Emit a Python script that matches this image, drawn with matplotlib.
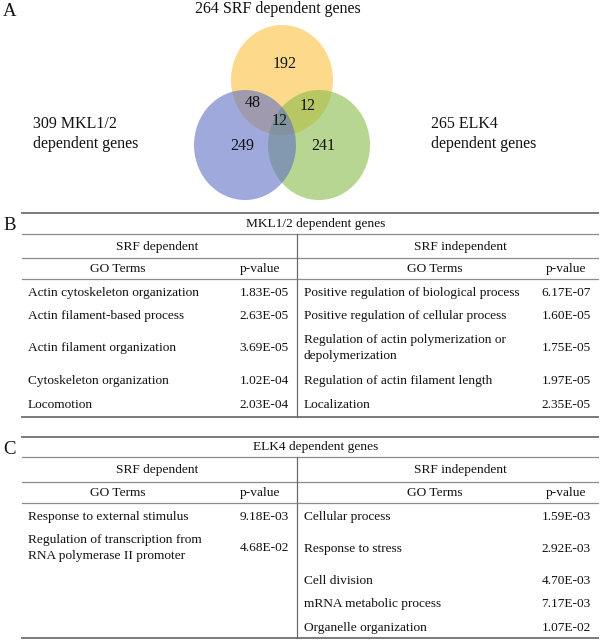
#!/usr/bin/env python3
"""
Venn diagram of SRF / MKL1/2 / ELK4 dependent genes plus GO term tables.
"""

import matplotlib

matplotlib.use("Agg")
import matplotlib.pyplot as plt
from matplotlib.patches import Ellipse

# --- data ---------------------------------------------------------------
set_labels = ["264 SRF dependent genes", "309 MKL1/2\ndependent genes", "265 ELK4\ndependent genes"]
# regions: SRF only, MKL only, ELK only, SRF&MKL, SRF&ELK, all three
venn_counts = [192, 249, 241, 48, 12, 12]

b_title = "MKL1/2 dependent genes"
b_dep_terms = [
    "Actin cytoskeleton organization",
    "Actin filament-based process",
    "Actin filament organization",
    "Cytoskeleton organization",
    "Locomotion",
]
b_dep_pvals = ["1.83E-05", "2.63E-05", "3.69E-05", "1.02E-04", "2.03E-04"]
b_indep_terms = [
    "Positive regulation of biological process",
    "Positive regulation of cellular process",
    "Regulation of actin polymerization or\ndepolymerization",
    "Regulation of actin filament length",
    "Localization",
]
b_indep_pvals = ["6.17E-07", "1.60E-05", "1.75E-05", "1.97E-05", "2.35E-05"]

c_title = "ELK4 dependent genes"
c_dep_terms = [
    "Response to external stimulus",
    "Regulation of transcription from\nRNA polymerase II promoter",
]
c_dep_pvals = ["9.18E-03", "4.68E-02"]
c_indep_terms = [
    "Cellular process",
    "Response to stress",
    "Cell division",
    "mRNA metabolic process",
    "Organelle organization",
]
c_indep_pvals = ["1.59E-03", "2.92E-03", "4.70E-03", "7.17E-03", "1.07E-02"]

# --- layout (pixels) ----------------------------------------------------
FONT = "Liberation Serif"
TXT = 9.6
X0, X1, XMID = 22, 598, 297

fig = plt.figure(figsize=(6.0, 6.43), dpi=100)
ax = fig.add_axes([0, 0, 1, 1])
ax.set_xlim(0, 600)
ax.set_ylim(643, 0)
ax.axis("off")


def txt(x, y, s, size=TXT, ha="left", **kw):
    ax.text(x, y, s, fontsize=size, ha=ha, va="center", family=FONT, color="#111111", **kw)


# --- panel A: venn ------------------------------------------------------
ew, eh = 102, 110
circles = [
    ((282, 80), "#FCC13F"),   # SRF
    ((319, 145), "#87BC48"),  # ELK4
    ((245, 145), "#6171C5"),  # MKL1/2 (drawn on top)
]
for (cx, cy), col in circles:
    ax.add_patch(Ellipse((cx, cy), ew, eh, facecolor=col, edgecolor="none", alpha=0.6))

count_pos = [(285, 64), (242, 146), (323, 146), (253, 103), (308, 106), (280, 121)]
for (x, y), n in zip(count_pos, venn_counts):
    txt(x, y, str(n), size=11.5, ha="center")

txt(278, 9, set_labels[0], size=11.5, ha="center")
txt(33, 134, set_labels[1], size=11.5, linespacing=1.25)
txt(431, 134, set_labels[2], size=11.5, linespacing=1.25)
txt(3, 12, "A", size=13.5)


# --- panels B and C: GO tables -----------------------------------------
def draw_table(letter, top, bottom, title, lines_y, head_y, dep, indep):
    # lines_y: title-bottom, subhead-bottom, header-bottom
    ax.plot([X0, X1], [top, top], color="#7a7a7a", lw=1.4)
    ax.plot([X0, X1], [bottom, bottom], color="#7a7a7a", lw=1.4)
    for y in lines_y:
        ax.plot([X0, X1], [y, y], color="#8c8c8c", lw=0.9)
    ax.plot([XMID, XMID], [lines_y[0], bottom], color="#6a6a6a", lw=0.9)

    txt(3, (top + lines_y[0]) / 2 + 2, letter, size=13.5)
    txt(316, (top + lines_y[0]) / 2, title, ha="center")
    txt(157, head_y[0], "SRF dependent", ha="center")
    txt(460, head_y[0], "SRF independent", ha="center")
    txt(118, head_y[1], "GO Terms", ha="center")
    txt(260, head_y[1], "p-value", ha="center")
    txt(435, head_y[1], "GO Terms", ha="center")
    txt(566, head_y[1], "p-value", ha="center")

    for (terms, pvals, rows), (xt, xp) in zip([dep, indep], [(28, 264), (304, 566)]):
        for term, pv, y in zip(terms, pvals, rows):
            txt(xt, y, term, linespacing=1.55)
            txt(xp, y, pv, ha="center")


draw_table(
    "B", 213, 417, b_title, [234, 258, 279], [247, 269],
    (b_dep_terms, b_dep_pvals, [293, 316, 348, 381, 405]),
    (b_indep_terms, b_indep_pvals, [293, 316, 348, 381, 405]),
)
draw_table(
    "C", 437, 638, c_title, [457, 482, 503], [470, 493],
    (c_dep_terms, c_dep_pvals, [517, 548]),
    (c_indep_terms, c_indep_pvals, [517, 549, 581, 604, 628]),
)

fig.savefig("out.png", dpi=100)
